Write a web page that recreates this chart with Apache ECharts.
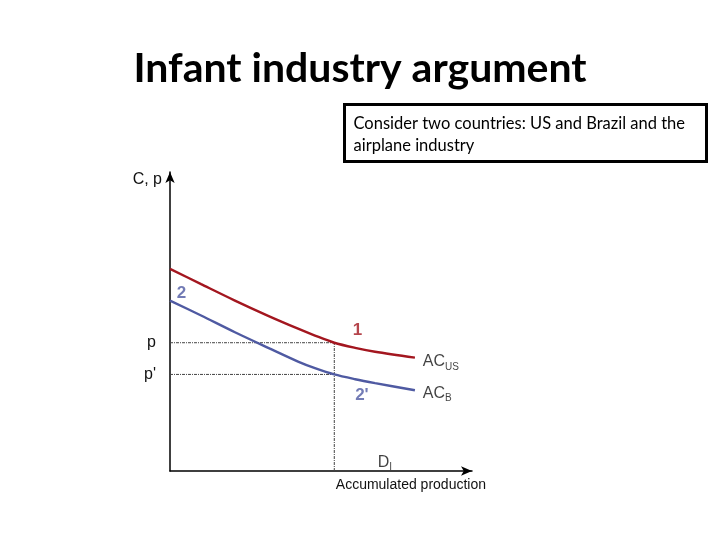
<!DOCTYPE html>
<html>
<head>
<meta charset="utf-8">
<script src="https://cdn.jsdelivr.net/npm/echarts@6/dist/echarts.min.js"></script>
<style>
  html, body { margin: 0; padding: 0; background: #fff; }
  #main { width: 720px; height: 540px; }
</style>
</head>
<body>
<div id="main"></div>
<script>
// accumulated production (x) and average cost (y)
const prodX = [0, 10.3, 21.5, 32.5, 42.4, 48.0, 54.4, 61.3, 67.9, 81.1]
const costUS = [67.6, 62.5, 57.0, 51.9, 47.6, 45.3, 42.9, 41.2, 39.9, 37.9]
const costB = [57.0, 52.0, 46.4, 41.2, 36.6, 34.4, 32.3, 30.7, 29.4, 27.0]

const demandX = 54.4 // D_I
const priceP = 42.9 // p
const priceP2 = 32.3 // p'

// annotations: [x, y, text]
const notes = [
  [2.2, 59.4, '{b|2}'],
  [60.5, 47.1, '{r|1}'],
  [61.3, 25.3, "{b|2'}"],
  [83.7, 36.5, '{n|AC}{s|US}'],
  [83.7, 25.9, '{n|AC}{s|B}'],
  [68.8, 2.9, '{n|D}{s|I}']
]

const RED = '#a3161f'
const BLUE = '#4f5aa2'
const FONT = 'Liberation Sans'

const chart = echarts.init(document.getElementById('main'))

const toPairs = (xs, ys) => xs.map((x, i) => [x, ys[i]])

const guide = {
  type: 'line',
  symbol: 'none',
  silent: true,
  lineStyle: { color: '#444', width: 1, type: [3, 1, 1, 1] },
  z: 1
}

const option = {
  animation: false,
  title: {
    text: 'Infant industry argument',
    left: 'center',
    top: 43,
    textStyle: { fontFamily: 'Lato', fontWeight: 'bold', fontSize: 41, color: '#000' }
  },
  graphic: [{
    type: 'group',
    left: 343,
    top: 103,
    children: [{
      type: 'rect',
      shape: { x: 0, y: 0, width: 362, height: 57 },
      style: { fill: '#fff', stroke: '#000', lineWidth: 3 }
    }, {
      type: 'text',
      x: 9,
      y: 8,
      style: {
        text: 'Consider two countries: US and Brazil and the\nairplane industry',
        font: '16.5px Lato',
        lineHeight: 22,
        fill: '#000'
      }
    }]
  }],
  grid: { left: 170, right: 248, top: 172, bottom: 69 },
  xAxis: {
    type: 'value',
    min: 0,
    max: 100,
    name: 'Accumulated production',
    nameLocation: 'end',
    nameGap: 14,
    nameTextStyle: {
      fontFamily: FONT, fontSize: 14, color: '#111',
      align: 'right', verticalAlign: 'top', padding: [7, 0, 0, 0]
    },
    axisLine: { lineStyle: { color: '#000', width: 1.5 }, symbol: ['none', 'arrow'], symbolSize: [7, 11] },
    axisTick: { show: false },
    axisLabel: { show: false },
    splitLine: { show: false }
  },
  yAxis: {
    type: 'value',
    min: 0,
    max: 100,
    name: 'C, p',
    nameLocation: 'end',
    nameGap: -8,
    nameTextStyle: {
      fontFamily: FONT, fontSize: 16, color: '#111',
      align: 'right', verticalAlign: 'middle', padding: [0, 8, 0, 0]
    },
    axisLine: { lineStyle: { color: '#000', width: 1.5 }, symbol: ['none', 'arrow'], symbolSize: [7, 11] },
    axisTick: { show: false },
    axisLabel: {
      customValues: [priceP2, priceP],
      formatter: v => (v === priceP ? 'p' : "p'"),
      margin: 14,
      fontFamily: FONT,
      fontSize: 16,
      color: '#111'
    },
    splitLine: { show: false }
  },
  series: [
    Object.assign({ data: [[0, priceP], [demandX, priceP]] }, guide),
    Object.assign({ data: [[0, priceP2], [demandX, priceP2]] }, guide),
    Object.assign({ data: [[demandX, 0], [demandX, priceP]] }, guide),
    {
      name: 'AC US',
      type: 'line',
      smooth: 0.3,
      symbol: 'none',
      lineStyle: { color: RED, width: 2.4 },
      data: toPairs(prodX, costUS),
      z: 3
    },
    {
      name: 'AC B',
      type: 'line',
      smooth: 0.3,
      symbol: 'none',
      lineStyle: { color: BLUE, width: 2.4 },
      data: toPairs(prodX, costB),
      z: 3
    },
    {
      type: 'scatter',
      symbolSize: 0,
      silent: true,
      clip: false,
      data: notes.map(n => ({ value: [n[0], n[1]], text: n[2] })),
      label: {
        show: true,
        position: 'right',
        distance: 0,
        formatter: p => p.data.text,
        rich: {
          r: { fontFamily: FONT, fontSize: 17, fontWeight: 'bold', color: RED },
          b: { fontFamily: FONT, fontSize: 17, fontWeight: 'bold', color: BLUE },
          n: { fontFamily: FONT, fontSize: 16, color: '#111' },
          s: { fontFamily: FONT, fontSize: 10, color: '#111', padding: [10, 0, 0, 0] }
        }
      }
    }
  ]
}

chart.setOption(option)
</script>
</body>
</html>
